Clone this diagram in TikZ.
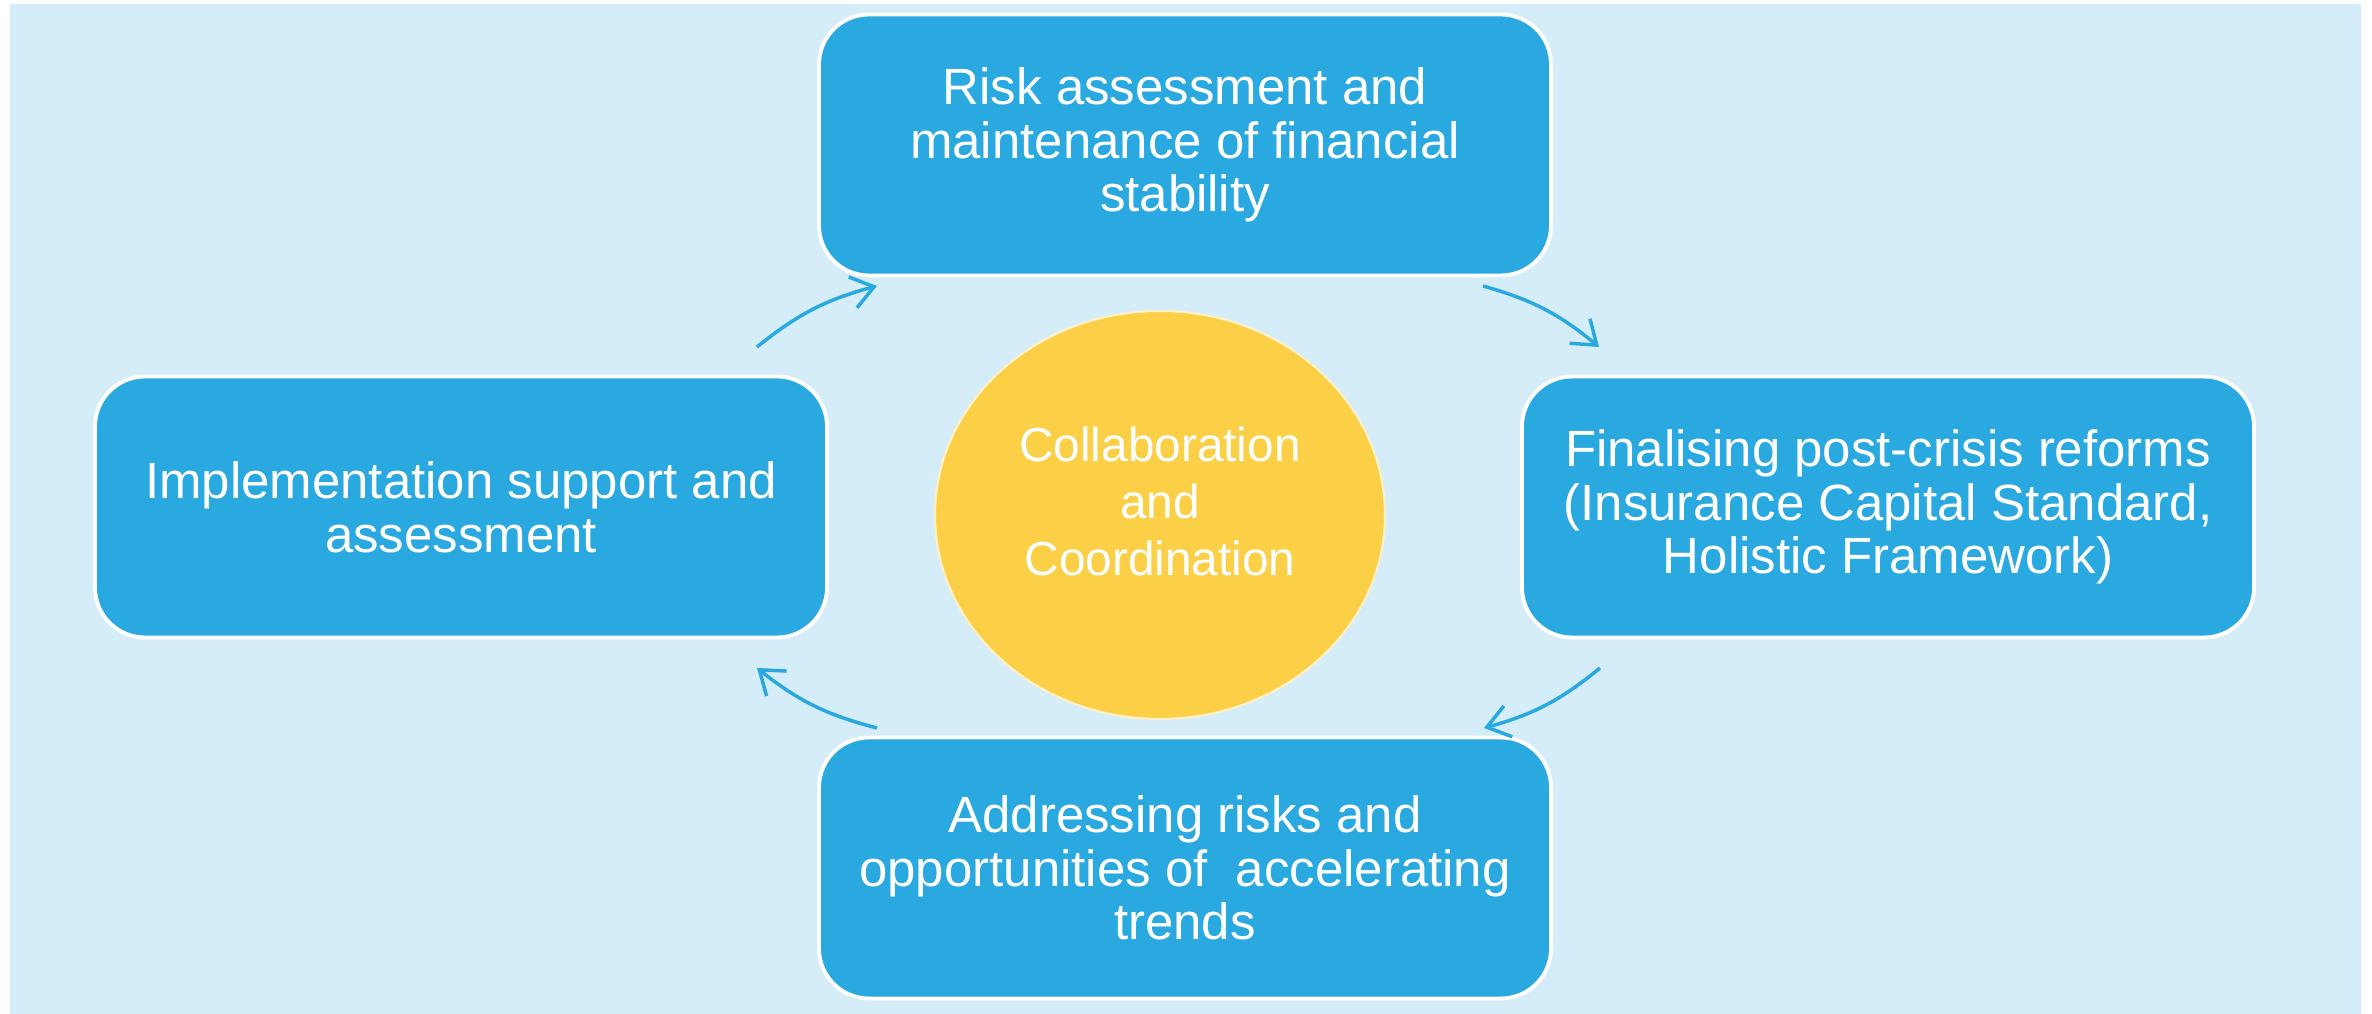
\documentclass[tikz,border=0pt]{standalone}
\usepackage{fontspec}
\setmainfont{Liberation Sans}
\usetikzlibrary{arrows.meta,shapes.geometric}

\definecolor{bgblue}{RGB}{213,237,248}
\definecolor{boxblue}{RGB}{41,169,224}
\definecolor{sunyellow}{RGB}{251,207,70}

\begin{document}
\begin{tikzpicture}[
    task/.style={draw=white, line width=1.1pt, fill=boxblue, rounded corners=5mm,
      minimum width=7.32cm, minimum height=2.61cm, align=center, text=white,
      font=\fontsize{14.5}{15.3}\selectfont},
    hub/.style={ellipse, draw=white!70!sunyellow, line width=0.6pt, fill=sunyellow,
      minimum width=4.5cm, minimum height=4.08cm, inner sep=0pt},
    hubtext/.style={align=center, text=white, font=\fontsize{13.6}{16.2}\selectfont},
    cycle/.style={draw=boxblue, line width=1pt,
      -{Straight Barb[length=2.2mm,width=3.2mm]}}]
  \useasboundingbox (0,0) rectangle (23.72,10.14);
  \fill[bgblue] (0.10,0) rectangle (23.61,10.10);

  % the four stages
  \node[task] (risk) at (11.85,8.69) {Risk assessment and\\maintenance of financial\\stability};
  \node[task] (reform) at (18.88,5.07) {Finalising post-crisis reforms\\(Insurance Capital Standard,\\Holistic Framework)};
  \node[task] (trend) at (11.85,1.46) {Addressing risks and\\opportunities of~ accelerating\\trends};
  \node[task] (impl) at (4.61,5.07) {Implementation support and\\assessment};

  % centre
  \node[hub] (hub) at (11.60,4.99) {};
  \node[hubtext] (hublabel) at ([yshift=1.4mm]hub.center) {Collaboration\\and\\Coordination};

  % arrow ends
  \coordinate (a1) at (7.57,6.67);
  \coordinate (b1) at (8.77,7.28);
  \coordinate (a2) at (14.83,7.28);
  \coordinate (b2) at (15.99,6.67);
  \coordinate (a3) at (16.00,3.46);
  \coordinate (b3) at (14.84,2.86);
  \coordinate (a4) at (8.77,2.86);
  \coordinate (b4) at (7.57,3.46);

  \draw[cycle] (a1) to[bend left=12] (b1);
  \draw[cycle] (a2) to[bend left=12] (b2);
  \draw[cycle] (a3) to[bend left=12] (b3);
  \draw[cycle] (a4) to[bend left=12] (b4);
\end{tikzpicture}
\end{document}
